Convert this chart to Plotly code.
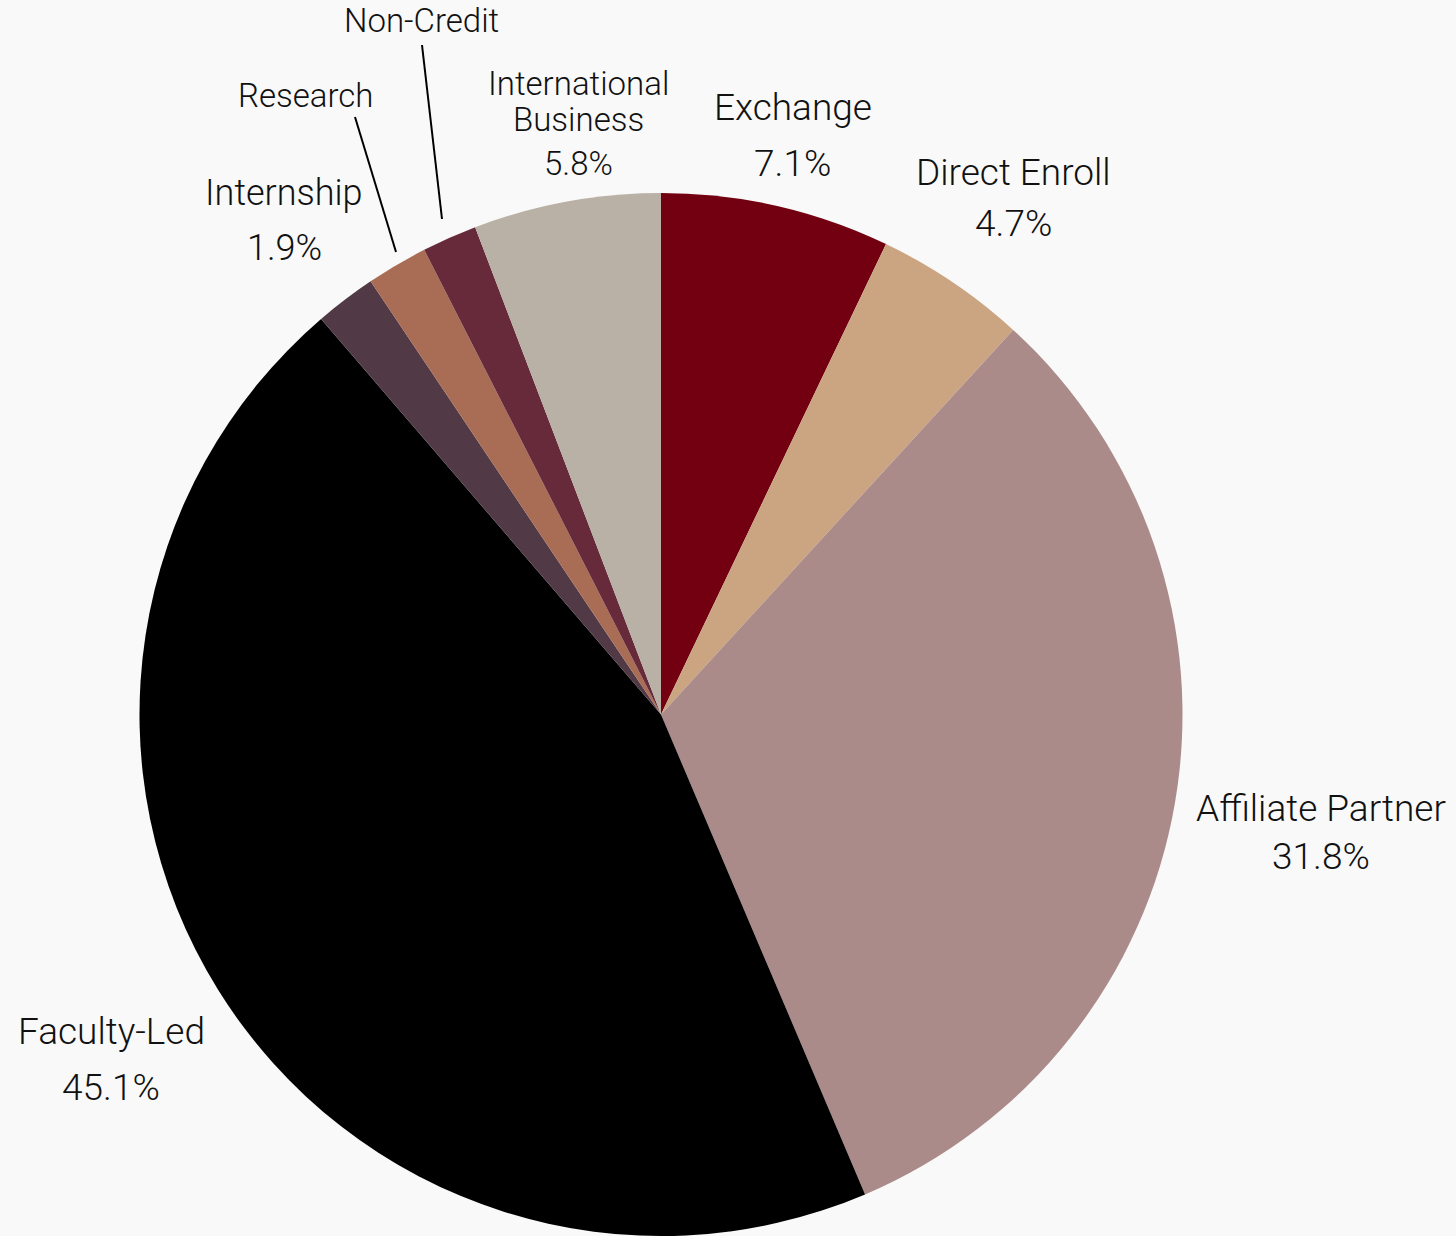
import plotly.graph_objects as go

# ---- data ----
categories = ["Exchange", "Direct Enroll", "Affiliate Partner", "Faculty-Led",
              "Internship", "Research", "Non-Credit", "International Business"]
values = [7.1, 4.7, 31.8, 45.1, 1.9, 1.9, 1.7, 5.8]
colors = ["#730010", "#CBA481", "#AB8B89", "#000000",
          "#513945", "#A96C55", "#672A3A", "#BAB1A6"]

# label text lines (name lines, percent line)
label_lines = {
    "Exchange": ["Exchange", "7.1%"],
    "Direct Enroll": ["Direct Enroll", "4.7%"],
    "Affiliate Partner": ["Affiliate Partner", "31.8%"],
    "Faculty-Led": ["Faculty-Led", "45.1%"],
    "Internship": ["Internship", "1.9%"],
    "Research": ["Research"],
    "Non-Credit": ["Non-Credit"],
    "International Business": ["International", "Business", "5.8%"],
}

W, H = 1456, 1236
BG = "#F9F9F9"
TXT = "#111111"

# layout positions (pixel centres of each text line) and font sizes
label_pos = {
    "Exchange": (793, [108, 163], 37),
    "Direct Enroll": (1013, [173, 223], 37),
    "Affiliate Partner": (1321, [808, 857], 37),
    "Faculty-Led": (111, [1031, 1087], 37),
    "Internship": (284, [193, 248], 36),
    "Research": (305, [95], 33),
    "Non-Credit": (421, [21], 33),
    "International Business": (578, [83, 120, 164], 33),
}
leader_lines = {
    "Research": ((355, 117), (396, 252)),
    "Non-Credit": ((422, 45), (442, 219)),
}

cx, r = 661, 521.5

def px(x):
    return x / W

def py(y):
    return 1 - y / H

fig = go.Figure(go.Pie(
    labels=categories,
    values=values,
    marker=dict(colors=colors, line=dict(width=0)),
    sort=False,
    direction="clockwise",
    rotation=0,
    textinfo="none",
    hoverinfo="label+percent",
    domain=dict(x=[px(cx - r), px(cx + r)], y=[0, 2 * r / H]),
    showlegend=False,
))

annotations = []
for cat in categories:
    x, ys, fs = label_pos[cat]
    for line, y in zip(label_lines[cat], ys):
        annotations.append(dict(
            x=px(x), y=py(y), xref="paper", yref="paper",
            text=line, showarrow=False, xanchor="center", yanchor="middle",
            font=dict(family="Roboto", size=fs, color=TXT, weight=300),
        ))

shapes = []
for cat, ((x0, y0), (x1, y1)) in leader_lines.items():
    shapes.append(dict(type="line", xref="paper", yref="paper",
                       x0=px(x0), y0=py(y0), x1=px(x1), y1=py(y1),
                       line=dict(color="#000000", width=2)))

fig.update_layout(
    width=W, height=H,
    margin=dict(l=0, r=0, t=0, b=0),
    paper_bgcolor=BG, plot_bgcolor=BG,
    annotations=annotations,
    shapes=shapes,
    showlegend=False,
)

fig.write_html(
    "out.html",
    config={"displayModeBar": False},
    post_script="document.body.style.margin='0';document.body.style.background='#F9F9F9';",
)
